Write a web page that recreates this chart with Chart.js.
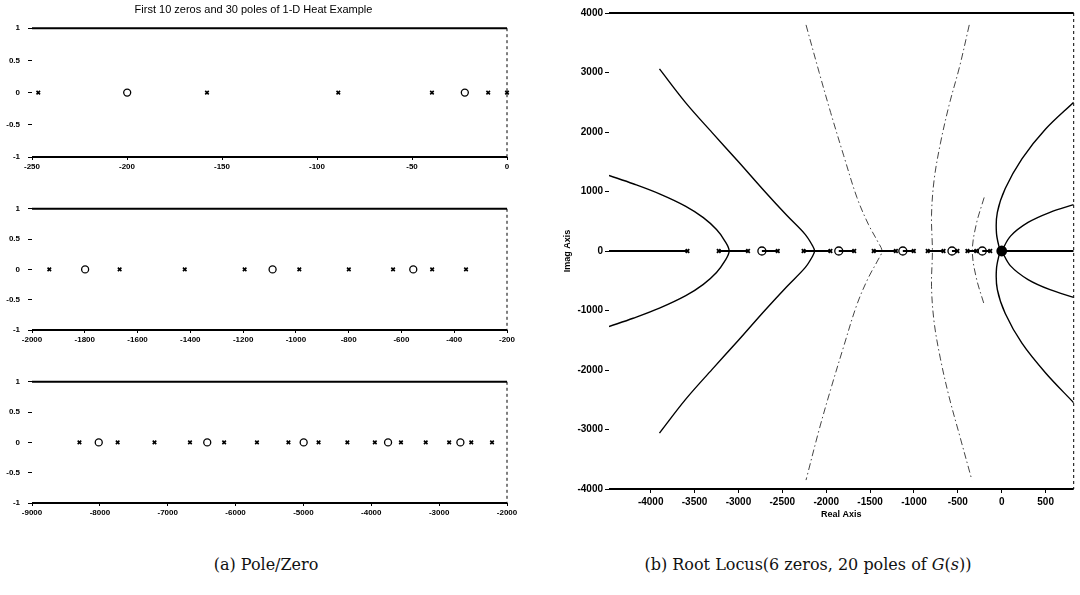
<!DOCTYPE html>
<html>
<head>
<meta charset="utf-8">
<script src="https://cdn.jsdelivr.net/npm/chart.js@4.4.0/dist/chart.umd.min.js"></script>
<style>
  body { margin: 0; background: #fff; width: 1080px; height: 595px; position: relative; overflow: hidden; }
  .box { position: absolute; }
  .cap { position: absolute; top: 555px; font-family: 'DejaVu Serif', serif; font-size: 16px; color: #111; white-space: nowrap; transform: translateX(-50%); }
</style>
</head>
<body>
<div class="box" style="left:0;top:0;width:520px;height:177px"><canvas id="pz1"></canvas></div>
<div class="box" style="left:0;top:196px;width:520px;height:154px"><canvas id="pz2"></canvas></div>
<div class="box" style="left:0;top:369px;width:520px;height:154px"><canvas id="pz3"></canvas></div>
<div class="box" style="left:540px;top:0;width:540px;height:525px"><canvas id="locus"></canvas></div>
<div class="cap" style="left:266px">(a) Pole/Zero</div>
<div class="cap" style="left:808px">(b) Root Locus(6 zeros, 20 poles of <i>G</i>(<i>s</i>))</div>

<script>
// ---- (a) pole / zero data of the 1-D heat example, one set per panel ----
const poles1 = [0, -9.9, -39.5, -88.8, -157.9, -246.7];
const poles2 = [-355.3, -483.6, -631.7, -799.4, -987.0, -1194.2, -1421.2, -1667.9, -1934.4];
const poles3 = [-2220.7, -2526.6, -2852.3, -3197.6, -3562.8, -3947.8, -4352.5, -4776.9,
  -5221.1, -5685.1, -6168.5, -6671.9, -7194.8, -7737.8, -8300.7];
const zeros1 = [-22.2, -199.9];
const zeros2 = [-555.2, -1088.3, -1798.7];
const zeros3 = [-2686.9, -3752.9, -4996.4, -6417.6, -8016.4];

const p1Ticks = [-250, -200, -150, -100, -50, 0];
const p2Ticks = [-2000, -1800, -1600, -1400, -1200, -1000, -800, -600, -400, -200];
const p3Ticks = [-9000, -8000, -7000, -6000, -5000, -4000, -3000, -2000];
const pzYTicks = [-1, -0.5, 0, 0.5, 1];

// ---- (b) root locus data ----
const rlXTicks = [-4000, -3500, -3000, -2500, -2000, -1500, -1000, -500, 0, 500];
const rlYTicks = [-4000, -3000, -2000, -1000, 0, 1000, 2000, 3000, 4000];
const rlXMin = -4475;
const rlXMax = 820;

const rlPoles = [-3581, -3225, -2891, -2552, -2258, -1952, -1681, -1459, -1206, -1002,
  -844, -663, -505, -391, -290, -131, 0];
const rlZeros = [-2733, -1857, -1127, -567, -222];

// real-axis parts of the locus
const rlSegStart = [-4475, -3225, -2733, -2258, -1857, -1459, -1127, -844, -567, -391, -222, 0];
const rlSegEnd   = [-3581, -2891, -2552, -1952, -1681, -1206, -1002, -663, -505, -290, -131, 820];

// branches leaving the real axis
const locusA = [[-4475, 1270], [-4200, 1130], [-3900, 960], [-3600, 750], [-3400, 560], [-3250, 360],
  [-3160, 180], [-3106, 0], [-3160, -180], [-3250, -360], [-3400, -560], [-3600, -750],
  [-3900, -960], [-4200, -1130], [-4475, -1270]];
const locusB = [[-3900, 3060], [-3600, 2490], [-3300, 1990], [-3000, 1500], [-2700, 1000], [-2450, 600],
  [-2240, 280], [-2160, 100], [-2133, 0], [-2160, -100], [-2240, -280], [-2450, -600],
  [-2700, -1000], [-3000, -1500], [-3300, -1990], [-3600, -2490], [-3900, -3060]];
const locusC = [[-2230, 3800], [-2080, 3000], [-1950, 2330], [-1800, 1600], [-1650, 900], [-1520, 450],
  [-1410, 150], [-1365, 0], [-1410, -150], [-1520, -450], [-1650, -900], [-1800, -1600],
  [-1950, -2330], [-2080, -3000], [-2230, -3850]];
const locusD = [[-370, 3800], [-480, 3100], [-600, 2450], [-700, 1800], [-770, 1200], [-800, 600],
  [-790, 0], [-800, -600], [-770, -1200], [-700, -1800], [-600, -2450], [-480, -3100], [-340, -3850]];
const locusE = [[-200, 900], [-290, 450], [-335, 0], [-290, -450], [-200, -900]];
const locusF1 = [[-20, 0], [-60, 300], [-50, 650], [40, 1050], [230, 1550], [500, 2050], [820, 2500]];
const locusF1b = [[-20, 0], [-60, -300], [-50, -650], [40, -1050], [230, -1550], [500, -2050], [820, -2550]];
const locusF2 = [[0, 0], [100, 250], [300, 480], [550, 650], [820, 780]];
const locusF2b = [[0, 0], [100, -250], [300, -480], [550, -650], [820, -780]];

const labelFont = "'Liberation Sans', Arial, sans-serif";

// top / bottom frame lines and dashed right edge
const frame = {
  id: 'frame',
  afterDatasetsDraw(chart) {
    const { ctx, chartArea: a } = chart;
    ctx.save();
    ctx.strokeStyle = '#000';
    ctx.lineWidth = 2;
    ctx.beginPath();
    ctx.moveTo(a.left, a.top); ctx.lineTo(a.right, a.top);
    ctx.moveTo(a.left, a.bottom); ctx.lineTo(a.right, a.bottom);
    ctx.stroke();
    ctx.lineWidth = 1;
    ctx.setLineDash([3, 3]);
    ctx.beginPath();
    ctx.moveTo(a.right, a.top); ctx.lineTo(a.right, a.bottom);
    ctx.stroke();
    ctx.restore();
  }
};

function fixedTicks(list) {
  return scale => { scale.ticks = list.map(v => ({ value: v })); };
}

function pzChart(id, xTicks, poles, zeros, title) {
  const lo = xTicks[0], hi = xTicks[xTicks.length - 1];
  new Chart(document.getElementById(id), {
    type: 'scatter',
    data: {
      datasets: [{
        data: poles.map(v => ({ x: v, y: 0 })),
        pointStyle: 'crossRot', pointRadius: 2.5, borderWidth: 1.6, borderColor: '#000', clip: false
      }, {
        data: zeros.map(v => ({ x: v, y: 0 })),
        pointStyle: 'circle', pointRadius: 3.5, borderWidth: 1.3, borderColor: '#000',
        backgroundColor: 'rgba(0,0,0,0)', clip: false
      }]
    },
    options: {
      responsive: true,
      maintainAspectRatio: false,
      animation: false,
      layout: { padding: { top: title ? 0 : 5, right: 13, left: 0, bottom: 0 } },
      plugins: {
        legend: { display: false },
        tooltip: { enabled: false },
        title: {
          display: !!title, text: title, color: '#000',
          font: { family: labelFont, size: 11, weight: 'normal' },
          padding: { top: 3, bottom: 12 }
        }
      },
      scales: {
        x: {
          type: 'linear', min: lo, max: hi,
          afterBuildTicks: fixedTicks(xTicks),
          afterFit: s => { s.height = 20; },
          border: { display: false },
          grid: { drawOnChartArea: false, tickLength: 3, color: '#000' },
          ticks: { color: '#000', font: { family: labelFont, size: 8, weight: 'bold' }, padding: 2,
            maxRotation: 0, autoSkip: false, callback: v => String(v) }
        },
        y: {
          min: -1, max: 1,
          afterBuildTicks: fixedTicks(pzYTicks),
          afterFit: s => { s.width = 32; },
          border: { display: false },
          grid: { drawOnChartArea: false, tickLength: 4, color: '#000' },
          ticks: { color: '#000', font: { family: labelFont, size: 8, weight: 'bold' }, padding: 8,
            autoSkip: false, callback: v => String(v) }
        }
      }
    },
    plugins: [frame]
  });
}

pzChart('pz1', p1Ticks, poles1, zeros1, 'First 10 zeros and 30 poles of 1-D Heat Example');
pzChart('pz2', p2Ticks, poles2, zeros2, null);
pzChart('pz3', p3Ticks, poles3, zeros3, null);

// ---- root locus ----
const toPts = list => list.map(p => ({ x: p[0], y: p[1] }));
const solid = { borderColor: '#000', borderWidth: 1.4, borderDash: [] };
const dashDot = { borderColor: '#444', borderWidth: 1, borderDash: [7, 3, 1.5, 3] };

function branch(list, style) {
  return Object.assign({
    type: 'line', data: toPts(list), showLine: true, pointRadius: 0, tension: 0.35, fill: false
  }, style);
}

const rlDatasets = [];
rlSegStart.forEach((s, i) => {
  rlDatasets.push(branch([[s, 0], [rlSegEnd[i], 0]], { borderColor: '#000', borderWidth: 1.8 }));
});
rlDatasets.push(branch(locusA, solid));
rlDatasets.push(branch(locusB, solid));
rlDatasets.push(branch(locusC, dashDot));
rlDatasets.push(branch(locusD, dashDot));
rlDatasets.push(branch(locusE, dashDot));
rlDatasets.push(branch(locusF1, solid));
rlDatasets.push(branch(locusF1b, solid));
rlDatasets.push(branch(locusF2, solid));
rlDatasets.push(branch(locusF2b, solid));
rlDatasets.push({
  data: rlPoles.map(v => ({ x: v, y: 0 })),
  pointStyle: ctx => (ctx.raw && ctx.raw.x === 0 ? 'circle' : 'crossRot'),
  pointRadius: ctx => (ctx.raw && ctx.raw.x === 0 ? 4.5 : 2.5),
  borderWidth: 1.8, borderColor: '#000', backgroundColor: '#000', showLine: false
});
rlDatasets.push({
  data: rlZeros.map(v => ({ x: v, y: 0 })),
  pointStyle: 'circle', pointRadius: 4, borderWidth: 1.3, borderColor: '#000',
  backgroundColor: '#fff', showLine: false
});

new Chart(document.getElementById('locus'), {
  type: 'scatter',
  data: { datasets: rlDatasets },
  options: {
    responsive: true,
    maintainAspectRatio: false,
    animation: false,
    layout: { padding: { top: 13, right: 3, left: 0, bottom: 0 } },
    plugins: { legend: { display: false }, tooltip: { enabled: false } },
    scales: {
      x: {
        type: 'linear', min: rlXMin, max: rlXMax,
        afterBuildTicks: fixedTicks(rlXTicks),
        afterFit: s => { s.height = 36; },
        border: { display: false },
        grid: { drawOnChartArea: false, tickLength: 4, color: '#000' },
        ticks: { color: '#000', font: { family: labelFont, size: 10, weight: 'bold' }, padding: 3,
          maxRotation: 0, autoSkip: false, callback: v => String(v) },
        title: { display: true, text: 'Real Axis', color: '#000',
          font: { family: labelFont, size: 9, weight: 'bold' }, padding: { top: 0, bottom: 5 } }
      },
      y: {
        min: -4000, max: 4000,
        afterBuildTicks: fixedTicks(rlYTicks),
        afterFit: s => { s.width = 69; },
        border: { display: false },
        grid: { drawOnChartArea: false, tickLength: 4, color: '#000' },
        ticks: { color: '#000', font: { family: labelFont, size: 10, weight: 'bold' }, padding: 2,
          autoSkip: false, callback: v => String(v) },
        title: { display: true, text: 'Imag Axis', color: '#000',
          font: { family: labelFont, size: 9, weight: 'bold' }, padding: { top: 22, bottom: 0 } }
      }
    }
  },
  plugins: [frame]
});
</script>
</body>
</html>
